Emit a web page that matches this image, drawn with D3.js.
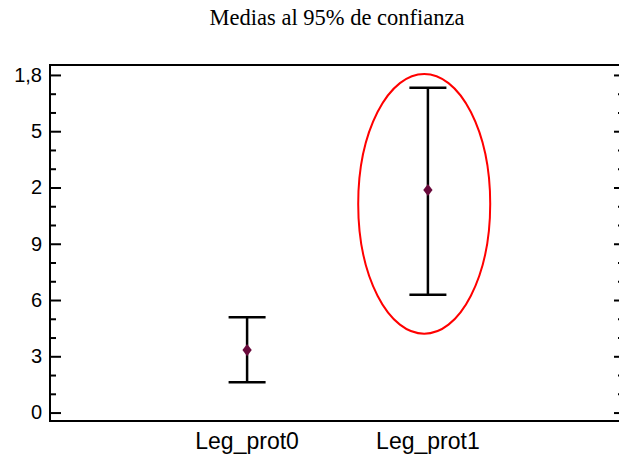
<!DOCTYPE html>
<html>
<head>
<meta charset="utf-8">
<title>Medias al 95% de confianza</title>
<script src="https://d3js.org/d3.v7.min.js"></script>
<style>
  body { margin: 0; background: #fff; overflow: hidden; }
  svg { display: block; font-family: "Liberation Sans", Arial, sans-serif; }
  .axis .domain { display: none; }
  .axis line { stroke: #000; stroke-width: 2px; }
  .axis text { font-size: 20px; fill: #000; }
</style>
</head>
<body>
<svg width="619" height="460"></svg>
<script>
// data
const categories = ["Leg_prot0", "Leg_prot1"];
const means = [0.333, 1.187];
const lower = [0.161, 0.628];
const upper = [0.508, 1.732];

const majorTicks = [0, 0.3, 0.6, 0.9, 1.2, 1.5, 1.8];
const majorLabels = ["0", "3", "6", "9", "2", "5", "1,8"];
const minorTicks = [0.1, 0.2, 0.4, 0.5, 0.7, 0.8, 1.0, 1.1, 1.3, 1.4, 1.6, 1.7];

// highlight ellipse round the second group (y range in data units)
const ellipseCat = "Leg_prot1";
const ellipseLow = 0.42;
const ellipseHigh = 1.805;

// the frame runs past the right edge of the picture
const plotLeft = 50, plotRight = 625, plotTop = 65, plotBottom = 421;

const svg = d3.select("svg");

const x = d3.scalePoint()
  .domain(categories)
  .range([plotLeft, plotRight])
  .padding(1.09);

const y = d3.scaleLinear()
  .domain([-0.045, 1.853])
  .range([plotBottom, plotTop]);

// title
svg.append("text")
  .attr("x", 337)
  .attr("y", 25)
  .attr("text-anchor", "middle")
  .style("font-family", "'Liberation Serif', 'Times New Roman', serif")
  .style("font-size", "22.5px")
  .text("Medias al 95% de confianza");

// left axis, ticks pointing inward
svg.append("g")
  .attr("class", "axis")
  .attr("transform", `translate(${plotLeft},0)`)
  .call(d3.axisLeft(y)
    .tickValues(majorTicks)
    .tickSize(-11)
    .tickPadding(8)
    .tickFormat((d, i) => majorLabels[i]));

svg.append("g")
  .attr("class", "axis")
  .attr("transform", `translate(${plotLeft},0)`)
  .call(d3.axisLeft(y).tickValues(minorTicks).tickSize(-6).tickFormat(""));

// right axis, ticks pointing inward
svg.append("g")
  .attr("class", "axis")
  .attr("transform", `translate(${plotRight},0)`)
  .call(d3.axisRight(y).tickValues(majorTicks).tickSize(-11).tickFormat(""));

svg.append("g")
  .attr("class", "axis")
  .attr("transform", `translate(${plotRight},0)`)
  .call(d3.axisRight(y).tickValues(minorTicks).tickSize(-7).tickFormat(""));

// frame
svg.append("rect")
  .attr("x", plotLeft)
  .attr("y", plotTop)
  .attr("width", plotRight - plotLeft)
  .attr("height", plotBottom - plotTop)
  .attr("fill", "none")
  .attr("stroke", "#000")
  .attr("stroke-width", 2);

// x labels
svg.selectAll(".xlabel")
  .data(categories)
  .join("text")
  .attr("class", "xlabel")
  .attr("x", d => x(d))
  .attr("y", 449)
  .attr("text-anchor", "middle")
  .style("font-size", "23px")
  .text(d => d);

// error bars
const capHalf = 18.5;
const bars = svg.selectAll(".bar")
  .data(categories)
  .join("g")
  .attr("class", "bar")
  .attr("stroke", "#000")
  .attr("stroke-width", 2.5);

bars.append("line")
  .attr("x1", d => x(d)).attr("x2", d => x(d))
  .attr("y1", (d, i) => y(upper[i])).attr("y2", (d, i) => y(lower[i]));
bars.append("line")
  .attr("x1", d => x(d) - capHalf).attr("x2", d => x(d) + capHalf)
  .attr("y1", (d, i) => y(upper[i])).attr("y2", (d, i) => y(upper[i]));
bars.append("line")
  .attr("x1", d => x(d) - capHalf).attr("x2", d => x(d) + capHalf)
  .attr("y1", (d, i) => y(lower[i])).attr("y2", (d, i) => y(lower[i]));

// means
svg.selectAll(".mean")
  .data(categories)
  .join("path")
  .attr("class", "mean")
  .attr("d", d3.symbol(d3.symbolDiamond, 52))
  .attr("transform", (d, i) => `translate(${x(d)},${y(means[i])}) scale(1.2,0.9)`)
  .attr("fill", "#6a0a3c");

// red ellipse
svg.append("ellipse")
  .attr("cx", x(ellipseCat) - 3.7)
  .attr("cy", (y(ellipseLow) + y(ellipseHigh)) / 2)
  .attr("rx", x.step() * 0.365)
  .attr("ry", (y(ellipseLow) - y(ellipseHigh)) / 2)
  .attr("fill", "none")
  .attr("stroke", "#ff0000")
  .attr("stroke-width", 2);
</script>
</body>
</html>
